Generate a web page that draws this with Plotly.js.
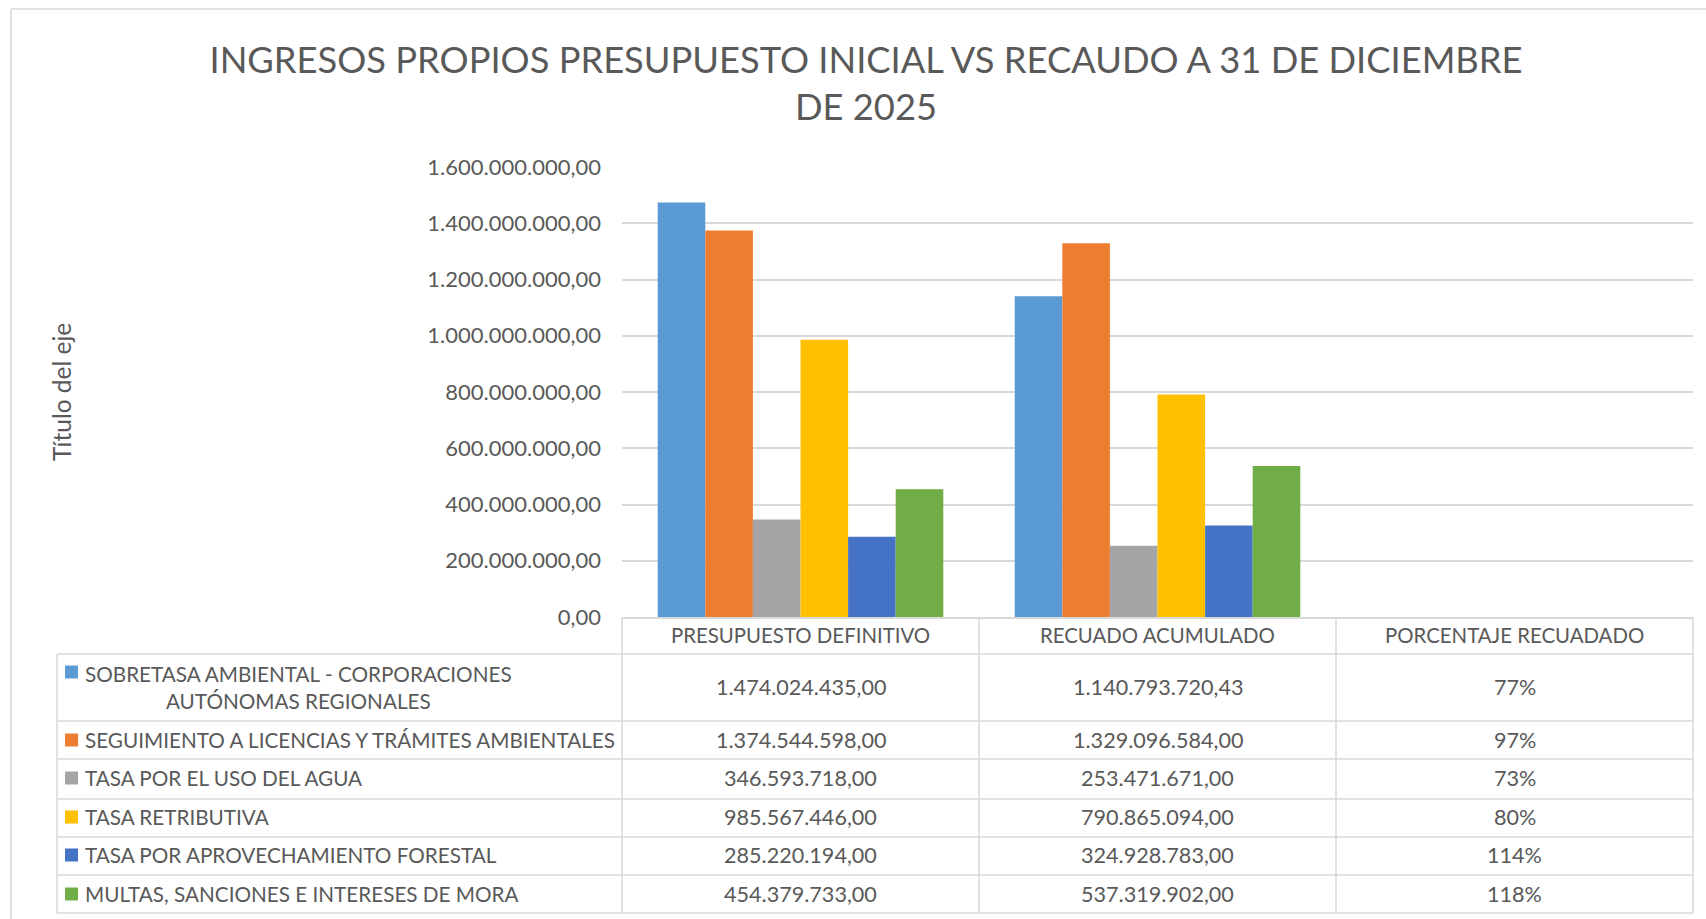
<!DOCTYPE html>
<html>
<head>
<meta charset="utf-8">
<script src="https://cdn.plot.ly/plotly-3.0.1.min.js"></script>
<style>html,body{margin:0;padding:0;background:#fff;}#chart{width:1706px;height:919px;}</style>
</head>
<body>
<div id="chart"></div>
<script>
// ---- data ----
const categories = ['PRESUPUESTO DEFINITIVO', 'RECUADO ACUMULADO', 'PORCENTAJE RECUADADO'];
const seriesNames = [
  'SOBRETASA AMBIENTAL - CORPORACIONES<br>AUTÓNOMAS REGIONALES',
  'SEGUIMIENTO A LICENCIAS Y TRÁMITES AMBIENTALES',
  'TASA POR EL USO DEL AGUA',
  'TASA RETRIBUTIVA',
  'TASA POR APROVECHAMIENTO FORESTAL',
  'MULTAS, SANCIONES E INTERESES DE MORA'
];
const presupuestoDefinitivo = [1474024435.00, 1374544598.00, 346593718.00, 985567446.00, 285220194.00, 454379733.00];
const recaudoAcumulado = [1140793720.43, 1329096584.00, 253471671.00, 790865094.00, 324928783.00, 537319902.00];
const porcentajeRecaudado = [77, 97, 73, 80, 114, 118];
const yTickValues = [0, 200000000, 400000000, 600000000, 800000000, 1000000000, 1200000000, 1400000000, 1600000000];

// ---- styles ----
const colors = ['#5B9BD5', '#ED7D31', '#A5A5A5', '#FFC000', '#4472C4', '#70AD47'];
const FONT = 'Lato, "Open Sans", sans-serif';
const TXT = '#595959';
const LINE = '#D9D9D9';
const NUM_SIZE = 21.6, HDR_SIZE = 20.4, LBL_SIZE = 20.7, TICK_SIZE = 22;

const W = 1706, H = 919;
const M = {l: 622, r: 13, t: 167, b: 302};
const PW = W - M.l - M.r, PH = H - M.t - M.b;
const xp = X => (X - M.l) / PW;
const yp = Y => (H - M.b - Y) / PH;

function fmtNum(v) {
  const s = v.toFixed(2);
  const [ip, dp] = s.split('.');
  return ip.replace(/\B(?=(\d{3})+(?!\d))/g, '.') + ',' + dp;
}

const traces = seriesNames.map((n, i) => ({
  type: 'bar',
  name: n.replace('<br>', ' '),
  x: categories,
  y: [presupuestoDefinitivo[i], recaudoAcumulado[i], porcentajeRecaudado[i] / 100],
  marker: {color: colors[i], line: {width: 0}},
  showlegend: false,
  hoverinfo: 'x+y+name'
}));

const shapes = [];
const annotations = [];
const line = (x0, y0, x1, y1, w) => shapes.push({type: 'line', xref: 'paper', yref: 'paper',
  x0: xp(x0), y0: yp(y0), x1: xp(x1), y1: yp(y1), line: {color: LINE, width: w || 1.5}, layer: 'above'});

// outer chart border (left & top)
line(11, 9, 11, 919, 1.5);
line(11, 9, 1706, 9, 1.5);

// table grid
const rowLines = [654, 721, 759, 799, 837, 875, 913];
rowLines.forEach(y => line(57, y, 1693, y));
line(57, 654, 57, 913);
[622, 979, 1336, 1693].forEach(x => line(x, 617, x, 913));

// header
const headerY = 635;
categories.forEach(c => annotations.push({xref: 'x', yref: 'paper', x: c, y: yp(headerY),
  text: c, showarrow: false, xanchor: 'center', yanchor: 'middle',
  font: {family: FONT, size: HDR_SIZE, color: TXT}}));

// rows
const rowCenters = [687, 740, 778, 817, 855, 894];
const swatchY = [672, 740, 778, 817, 855, 894];
seriesNames.forEach((n, i) => {
  shapes.push({type: 'rect', xref: 'paper', yref: 'paper', x0: xp(65), x1: xp(78),
    y0: yp(swatchY[i] - 6.5), y1: yp(swatchY[i] + 6.5), line: {width: 0}, fillcolor: colors[i]});
  annotations.push({xref: 'paper', yref: 'paper', x: xp(83), y: yp(rowCenters[i]), text: n,
    showarrow: false, xanchor: 'left', yanchor: 'middle', align: 'center',
    font: {family: FONT, size: LBL_SIZE, color: TXT}});
  const vals = [fmtNum(presupuestoDefinitivo[i]), fmtNum(recaudoAcumulado[i]), porcentajeRecaudado[i] + '%'];
  vals.forEach((v, j) => annotations.push({xref: 'x', yref: 'paper', x: categories[j], y: yp(rowCenters[i]),
    text: v, showarrow: false, xanchor: 'center', yanchor: 'middle',
    font: {family: FONT, size: NUM_SIZE, color: TXT}}));
});

// y-axis title
annotations.push({xref: 'paper', yref: 'paper', x: xp(61), y: yp(392), text: 'Título del eje',
  textangle: -90, showarrow: false, xanchor: 'center', yanchor: 'middle',
  font: {family: FONT, size: 24.5, color: TXT}});

const layout = {
  width: W, height: H,
  margin: M,
  paper_bgcolor: '#ffffff', plot_bgcolor: '#ffffff',
  separators: ',.',
  barmode: 'group', bargap: 0.2, bargroupgap: 0,
  title: {
    text: 'INGRESOS PROPIOS PRESUPUESTO INICIAL VS RECAUDO A 31 DE DICIEMBRE<br>DE 2025',
    x: 866 / W, xanchor: 'center', xref: 'container',
    y: 1 - 73 / H, yanchor: 'middle', yref: 'container',
    font: {family: FONT, size: 36.3, color: TXT}
  },
  xaxis: {
    type: 'category', categoryorder: 'array', categoryarray: categories,
    showticklabels: false, ticks: '', showgrid: false, zeroline: false,
    showline: true, linecolor: LINE, linewidth: 1.5
  },
  yaxis: {
    range: [0, 1600000000], tickvals: yTickValues, tickformat: ',.2f',
    showgrid: true, gridcolor: LINE, gridwidth: 1.5, zeroline: false, showline: false,
    ticks: '', ticklabelstandoff: 20,
    tickfont: {family: FONT, size: TICK_SIZE, color: TXT}
  },
  shapes: shapes,
  annotations: annotations
};

Plotly.newPlot('chart', traces, layout, {displayModeBar: false, responsive: false});
</script>
</body>
</html>
